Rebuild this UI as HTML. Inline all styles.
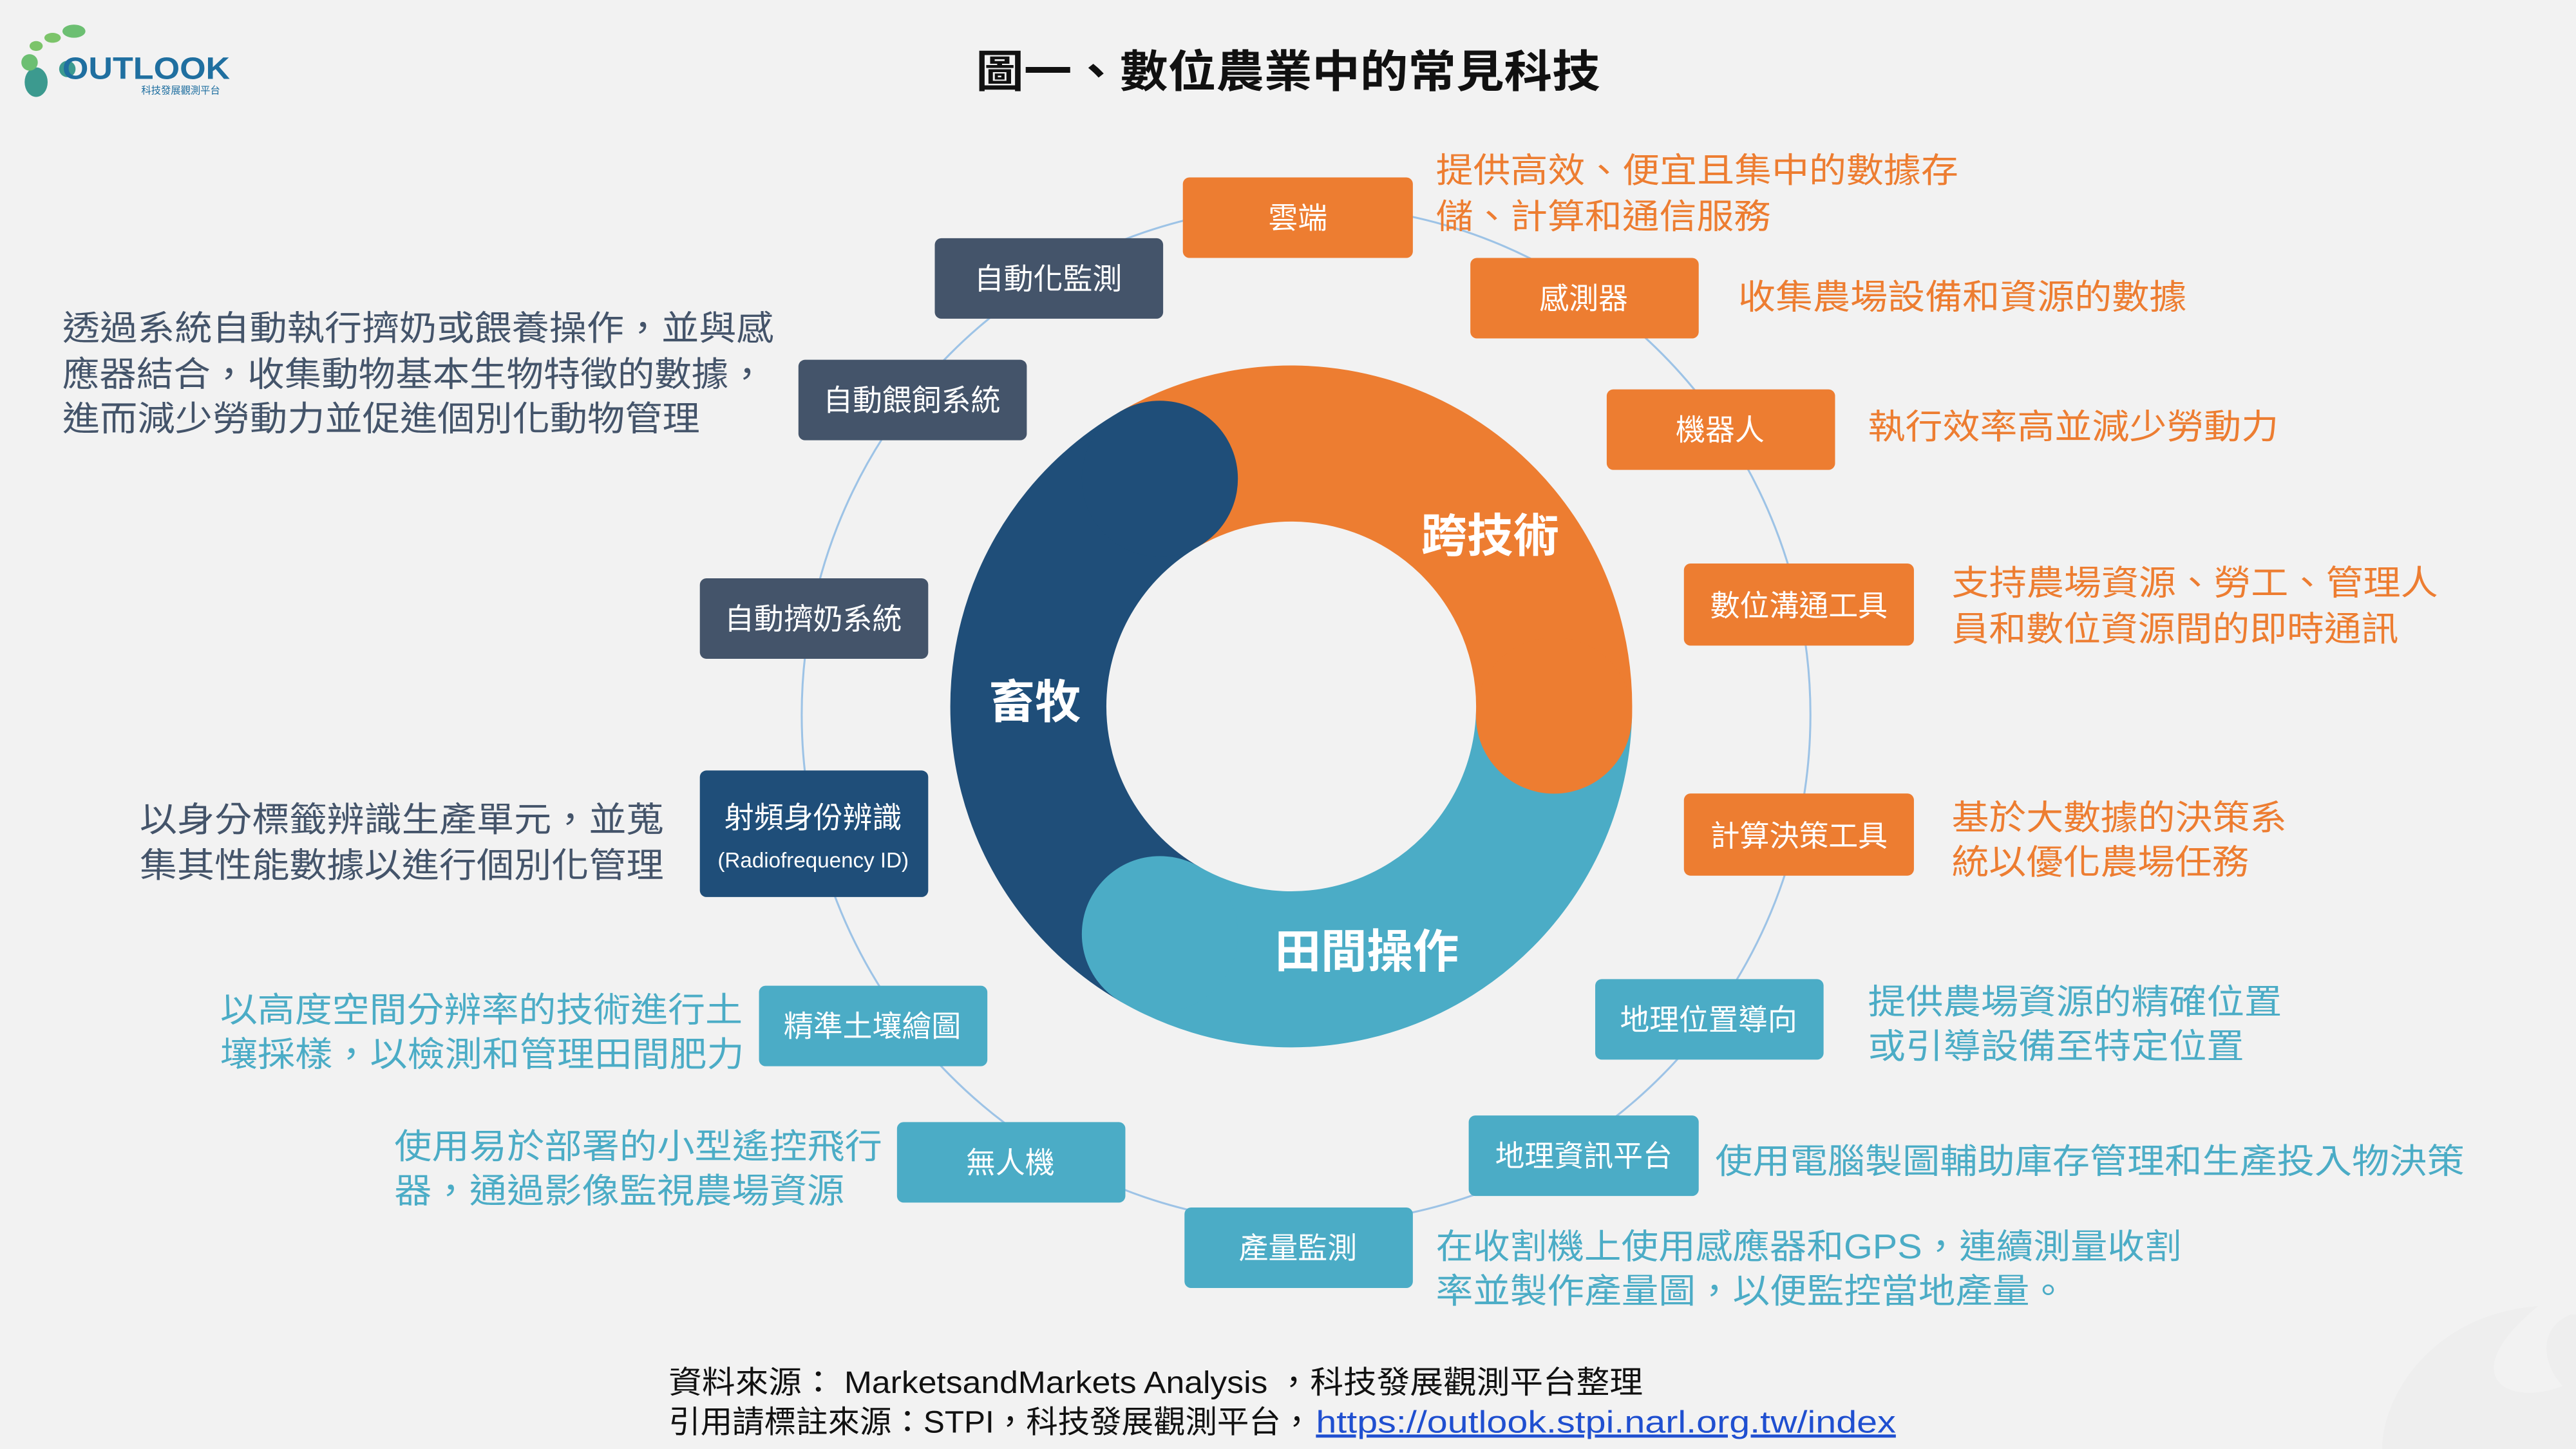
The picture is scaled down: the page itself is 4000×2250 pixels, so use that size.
<!DOCTYPE html>
<html><head><meta charset="utf-8"><style>
html,body{margin:0;padding:0;background:#f2f2f2;}
svg{display:block;}
text{font-family:"Liberation Sans","Noto Sans CJK TC",sans-serif;}
</style></head><body>
<svg width="4000" height="2250" viewBox="0 0 1568 882" xmlns="http://www.w3.org/2000/svg">
<rect width="1568" height="882" fill="#f2f2f2"/>
<!-- watermark -->
<path d="M1545 795 C1480 800 1450 850 1450 882 L1568 882 L1568 840 C1530 860 1490 840 1545 795Z" fill="#eeeeee"/>
<path d="M1565 800 C1595 800 1580 840 1568 850 C1550 840 1540 810 1565 800Z" fill="#eeeeee"/>
<!-- logo -->
<g>
<ellipse cx="22" cy="50" rx="7" ry="9" fill="#3c9a8f"/>
<ellipse cx="18" cy="38" rx="5" ry="5" fill="#6cbf72"/>
<ellipse cx="22" cy="28" rx="4" ry="3" fill="#7cc46a"/>
<ellipse cx="32" cy="23" rx="5" ry="3" fill="#7cc46a"/>
<ellipse cx="45" cy="19" rx="7" ry="4" fill="#6cbf72"/>
<ellipse cx="41" cy="42" rx="5" ry="5" fill="#3c9a8f"/>
<text x="38" y="48" font-size="19" font-weight="bold" fill="#1f6fa0" textLength="102" lengthAdjust="spacingAndGlyphs">OUTLOOK</text>
<text x="86" y="57" font-size="6" fill="#1f6fa0">科技發展觀測平台</text>
</g>
<text x="594" y="53" font-size="27" font-weight="bold" fill="#111" textLength="380" lengthAdjust="spacingAndGlyphs">圖一、數位農業中的常見科技</text>
<!-- outer thin circle -->
<ellipse cx="795" cy="435" rx="307" ry="310" fill="none" stroke="#9dc3e6" stroke-width="1.2"/>
<!-- ring -->
<g fill="none" stroke-width="95">
<path d="M706 291.4 A160 160 0 0 1 945.9 435.6" stroke="#ED7D31"/>
<path d="M945.9 435.6 A160 160 0 0 1 706 568.6" stroke="#4BACC6"/>
<path d="M706 568.6 A160 160 0 0 1 706 291.4" stroke="#1F4E79"/>
</g>
<circle cx="945.9" cy="435.6" r="47.5" fill="#ED7D31"/>
<circle cx="706" cy="568.6" r="47.5" fill="#4BACC6"/>
<circle cx="706" cy="291.4" r="47.5" fill="#1F4E79"/>
<g font-size="28" font-weight="bold" fill="#fff" text-anchor="middle">
<text x="907" y="336">跨技術</text>
<text x="630" y="437">畜牧</text>
<text x="832" y="589">田間操作</text>
</g>
<!-- boxes -->
<g font-size="18" fill="#fff" text-anchor="middle">
<rect x="720" y="108" width="140" height="49" rx="4" fill="#ED7D31"/><text x="790" y="139">雲端</text>
<rect x="895" y="157" width="139" height="49" rx="4" fill="#ED7D31"/><text x="964" y="188">感測器</text>
<rect x="978" y="237" width="139" height="49" rx="4" fill="#ED7D31"/><text x="1047" y="268">機器人</text>
<rect x="1025" y="343" width="140" height="50" rx="4" fill="#ED7D31"/><text x="1095" y="375">數位溝通工具</text>
<rect x="1025" y="483" width="140" height="50" rx="4" fill="#ED7D31"/><text x="1095" y="515">計算決策工具</text>
<rect x="971" y="596" width="139" height="49" rx="4" fill="#4BACC6"/><text x="1040" y="627">地理位置導向</text>
<rect x="894" y="679" width="140" height="49" rx="4" fill="#4BACC6"/><text x="964" y="710">地理資訊平台</text>
<rect x="721" y="735" width="139" height="49" rx="4" fill="#4BACC6"/><text x="790" y="766">產量監測</text>
<rect x="546" y="683" width="139" height="49" rx="4" fill="#4BACC6"/><text x="615" y="714">無人機</text>
<rect x="462" y="600" width="139" height="49" rx="4" fill="#4BACC6"/><text x="531" y="631">精準土壤繪圖</text>
<rect x="426" y="469" width="139" height="77" rx="4" fill="#1F4E79"/><text x="495" y="504">射頻身份辨識</text>
<text x="495" y="528" font-size="13">(Radiofrequency ID)</text>
<rect x="426" y="352" width="139" height="49" rx="4" fill="#44546A"/><text x="495" y="383">自動擠奶系統</text>
<rect x="486" y="219" width="139" height="49" rx="4" fill="#44546A"/><text x="555" y="250">自動餵飼系統</text>
<rect x="569" y="145" width="139" height="49" rx="4" fill="#44546A"/><text x="638" y="176">自動化監測</text>
</g>
<!-- descriptions -->
<g font-size="21" fill="#ED7D31">
<text x="874" y="111" textLength="318" lengthAdjust="spacingAndGlyphs">提供高效、便宜且集中的數據存</text>
<text x="874" y="139" textLength="204" lengthAdjust="spacingAndGlyphs">儲、計算和通信服務</text>
<text x="1058" y="188" textLength="273" lengthAdjust="spacingAndGlyphs">收集農場設備和資源的數據</text>
<text x="1137" y="267" textLength="250" lengthAdjust="spacingAndGlyphs">執行效率高並減少勞動力</text>
<text x="1188" y="362" textLength="296" lengthAdjust="spacingAndGlyphs">支持農場資源、勞工、管理人</text>
<text x="1188" y="390" textLength="272" lengthAdjust="spacingAndGlyphs">員和數位資源間的即時通訊</text>
<text x="1188" y="505" textLength="204" lengthAdjust="spacingAndGlyphs">基於大數據的決策系</text>
<text x="1188" y="532" textLength="181" lengthAdjust="spacingAndGlyphs">統以優化農場任務</text>
</g>
<g font-size="21" fill="#4BACC6">
<text x="1137" y="617" textLength="252" lengthAdjust="spacingAndGlyphs">提供農場資源的精確位置</text>
<text x="1137" y="644" textLength="229" lengthAdjust="spacingAndGlyphs">或引導設備至特定位置</text>
<text x="1044" y="714" textLength="456" lengthAdjust="spacingAndGlyphs">使用電腦製圖輔助庫存管理和生產投入物決策</text>
<text x="874" y="766" textLength="454" lengthAdjust="spacingAndGlyphs">在收割機上使用感應器和GPS，連續測量收割</text>
<text x="874" y="793" textLength="384" lengthAdjust="spacingAndGlyphs">率並製作產量圖，以便監控當地產量。</text>
<text x="240" y="705" textLength="297" lengthAdjust="spacingAndGlyphs">使用易於部署的小型遙控飛行</text>
<text x="240" y="732" textLength="274" lengthAdjust="spacingAndGlyphs">器，通過影像監視農場資源</text>
<text x="134" y="622" textLength="318" lengthAdjust="spacingAndGlyphs">以高度空間分辨率的技術進行土</text>
<text x="134" y="649" textLength="319" lengthAdjust="spacingAndGlyphs">壤採樣，以檢測和管理田間肥力</text>
</g>
<g font-size="21" fill="#44546A">
<text x="85" y="506" textLength="319" lengthAdjust="spacingAndGlyphs">以身分標籤辨識生產單元，並蒐</text>
<text x="85" y="534" textLength="319" lengthAdjust="spacingAndGlyphs">集其性能數據以進行個別化管理</text>
<text x="38" y="207" textLength="433" lengthAdjust="spacingAndGlyphs">透過系統自動執行擠奶或餵養操作，並與感</text>
<text x="38" y="235" textLength="428" lengthAdjust="spacingAndGlyphs">應器結合，收集動物基本生物特徵的數據，</text>
<text x="38" y="262" textLength="388" lengthAdjust="spacingAndGlyphs">進而減少勞動力並促進個別化動物管理</text>
</g>
<!-- source -->
<g font-size="19" fill="#111">
<text x="407" y="848" textLength="593" lengthAdjust="spacingAndGlyphs">資料來源： MarketsandMarkets Analysis ，科技發展觀測平台整理</text>
<text x="407" y="872" textLength="392" lengthAdjust="spacingAndGlyphs">引用請標註來源：STPI，科技發展觀測平台，</text>
<text x="801" y="872" fill="#1f4fd0" text-decoration="underline" textLength="353" lengthAdjust="spacingAndGlyphs">https://outlook.stpi.narl.org.tw/index</text>
</g>
</svg>
</body></html>
